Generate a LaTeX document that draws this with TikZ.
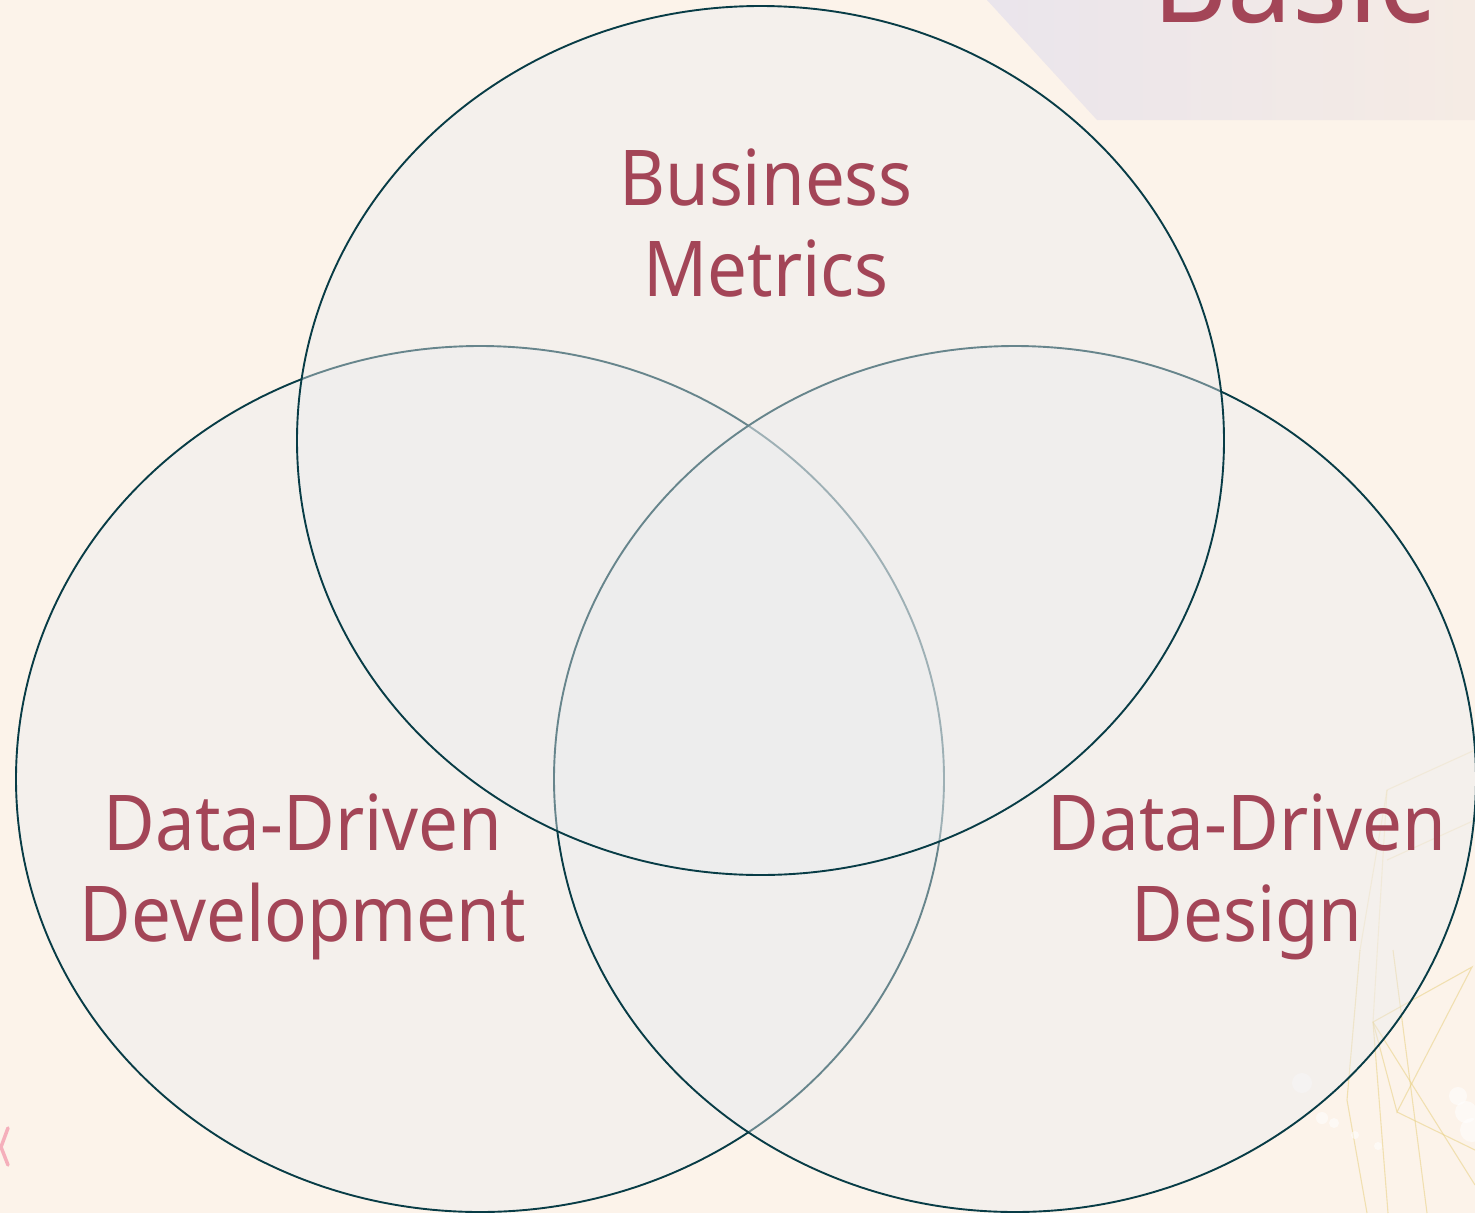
\documentclass[tikz,border=0pt]{standalone}
\usepackage{fontspec}
\setmainfont{Noto Sans}[FakeStretch=0.92]
\definecolor{bg}{RGB}{252,243,234}
\definecolor{rim}{RGB}{8,60,70}
\definecolor{labelred}{RGB}{163,69,87}
\definecolor{veil}{RGB}{235,236,239}
\definecolor{lavender}{RGB}{234,229,236}
\definecolor{peach}{RGB}{245,235,228}
\definecolor{gold}{RGB}{232,208,130}
\definecolor{blush}{RGB}{240,120,150}
\begin{document}
\begin{tikzpicture}[x=1pt,y=-1pt,
  vennset/.style={draw=rim, line width=1.9pt, fill=veil, fill opacity=0.42},
  lbl/.style={text=labelred, font=\fontsize{77}{90}\selectfont, anchor=base, inner sep=0pt},
  goldline/.style={draw=gold, line width=1.1pt, opacity=0.55},
  bokeh/.style={fill=white, opacity=0.55}]
  % canvas
  \fill[bg] (0,0) rectangle (1475,1213);
  \useasboundingbox (0,0) rectangle (1475,1213);
  \begin{scope}
    \clip (0,0) rectangle (1475,1213);
    % title panel in the upper right corner
    \shade[left color=lavender, right color=peach] (987,0) -- (1097,120) -- (1475,120) -- (1475,0) -- cycle;
    \node[text=labelred, font=\fontsize{126}{130}\selectfont, anchor=base west, inner sep=0pt] (title) at (1152,22) {Basic};
    % golden network lines, lower right
    \coordinate (ga) at (1373,1022);
    \coordinate (gb) at (1397,1112);
    \coordinate (gc) at (1472,967);
    \draw[goldline] (ga) -- (gc) -- (gb) -- cycle;
    \draw[goldline] (gb) -- (1475,1150);
    \draw[goldline] (ga) -- (1475,1185);
    \draw[goldline] (ga) -- (1388,1213);
    \draw[goldline] (1393,950) -- (1427,1213);
    \draw[goldline] (1360,950) -- (1347,1100) -- (1367,1213);
    \draw[goldline, opacity=0.3] (1387,790) -- (1475,750);
    \draw[goldline, opacity=0.3] (1387,860) -- (1475,820);
    \draw[goldline, opacity=0.3] (1387,790) -- (1373,1022);
    \draw[goldline, opacity=0.3] (1387,790) -- (1360,950);
    \fill[bokeh] (1302,1083) circle (10);
    \fill[bokeh] (1322,1118) circle (6);
    \fill[bokeh] (1334,1123) circle (5);
    \fill[bokeh] (1355,1135) circle (4);
    \fill[bokeh] (1378,1146) circle (4);
    \fill[bokeh] (1458,1096) circle (9);
    \fill[bokeh] (1466,1112) circle (11);
    \fill[bokeh] (1472,1130) circle (12);
    % pink stroke at the left margin
    \draw[blush, line width=3.5pt, opacity=0.55, line cap=round] (8,1128) -- (1,1147) -- (8,1165);
  \end{scope}
  % the three sets
  \path[vennset] (480,779) ellipse [x radius=464pt, y radius=433pt];
  \path[vennset] (1015,779) ellipse [x radius=461pt, y radius=433pt];
  \path[vennset] (760.5,440.5) ellipse [x radius=463.5pt, y radius=434.5pt];
  % labels
  \node[lbl] (bm1) at (766,205) {Business};
  \node[lbl] (bm2) at (766,296) {Metrics};
  \node[lbl] (dev1) at (303,850) {Data-Driven};
  \node[lbl] (dev2) at (303,941) {Development};
  \node[lbl] (des1) at (1247,850) {Data-Driven};
  \node[lbl] (des2) at (1247,941) {Design};
\end{tikzpicture}
\end{document}
